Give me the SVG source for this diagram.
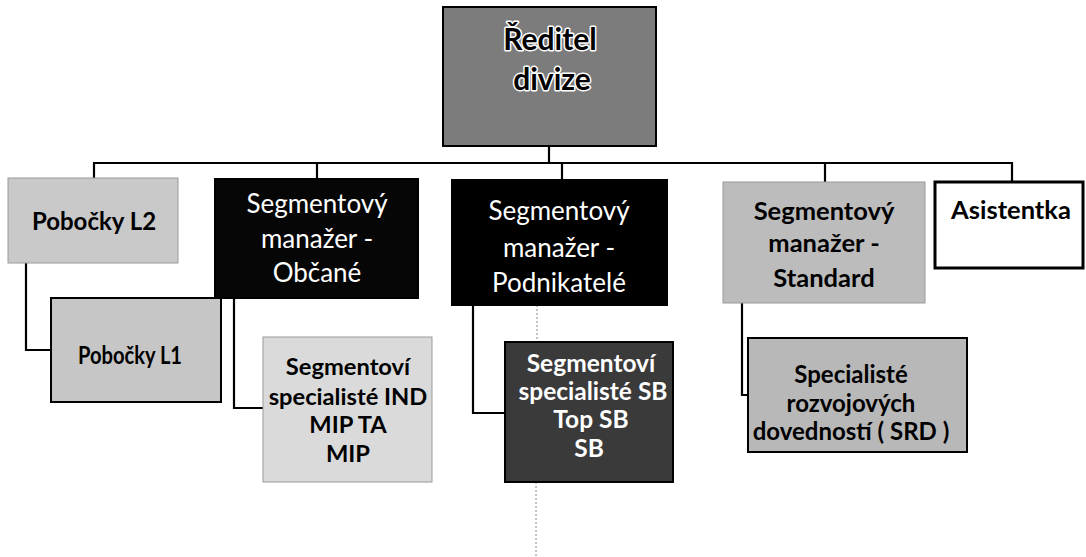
<svg xmlns="http://www.w3.org/2000/svg" width="1086" height="557" viewBox="0 0 1086 557">
  <style>
    .box { stroke: #000; stroke-width: 2; }
    .soft { stroke: #9a9a9a; stroke-width: 1; }
    .wire { fill: none; stroke: #000; stroke-width: 2.2; }
    .faint { fill: none; stroke: #888; stroke-width: 1; stroke-dasharray: 2 2; }
    text { font-family: Lato, "Open Sans", "Liberation Sans", sans-serif; text-anchor: middle; }
    .b { font-weight: 700; fill: #000; font-size: 24px; }
    .w { font-weight: 400; fill: #fff; font-size: 26px; }
    .wb { font-weight: 700; fill: #fff; font-size: 24.5px; }
    .title { font-size: 30px; }
    .mid { font-size: 25.5px; }
    .sm { font-size: 23.7px; }
    .halo { stroke: #fff; stroke-width: 3; paint-order: stroke; stroke-linejoin: round; }
  </style>

  <rect width="1086" height="557" fill="#fff"/>

  <!-- connectors -->
  <g id="connectors">
    <path class="wire" d="M549 146 V163"/>
    <path class="wire" d="M94 178 V163 H1012 V181"/>
    <path class="wire" d="M317 163 V179"/>
    <path class="wire" d="M562 163 V180"/>
    <path class="wire" d="M825 163 V182"/>
    <path class="wire" d="M26 263 V350 H51"/>
    <path class="wire" d="M234 298 V408 H263"/>
    <path class="wire" d="M473 305 V413 H505"/>
    <path class="wire" d="M742 303 V395 H748"/>
    <path class="faint" d="M537 305 V342 M536 482 V557"/>
  </g>

  <!-- top -->
  <g id="reditel">
    <rect class="box" x="443" y="7" width="213" height="139" fill="#7c7c7c"/>
    <text class="b title halo" x="550" y="50">Ředitel</text>
    <text class="b title halo" x="552" y="90">divize</text>
  </g>

  <!-- second row -->
  <g id="pobocky-l2">
    <rect class="soft" x="8" y="178" width="170" height="85" fill="#c9c9c9"/>
    <text class="b" x="94" y="230">Pobočky L2</text>
  </g>

  <g id="seg-obcane">
    <rect class="box" x="215" y="179" width="203" height="119" fill="#060606"/>
    <text class="w" x="317" y="213">Segmentový</text>
    <text class="w" x="317" y="248">manažer -</text>
    <text class="w" x="317" y="282">Občané</text>
  </g>

  <g id="seg-podnikatele">
    <rect class="box" x="452" y="180" width="215" height="125" fill="#000"/>
    <text class="w" x="559" y="220">Segmentový</text>
    <text class="w" x="559" y="257">manažer -</text>
    <text class="w" x="559" y="292">Podnikatelé</text>
  </g>

  <g id="seg-standard">
    <rect class="soft" x="723" y="182" width="202" height="121" fill="#bcbcbc"/>
    <text class="b mid" x="824" y="220">Segmentový</text>
    <text class="b mid" x="824" y="252">manažer -</text>
    <text class="b mid" x="824" y="287">Standard</text>
  </g>

  <g id="asistentka">
    <rect x="935" y="182" width="148" height="86" fill="#fff" stroke="#000" stroke-width="3"/>
    <text class="b mid" x="1011" y="219">Asistentka</text>
  </g>

  <!-- third row -->
  <g id="pobocky-l1">
    <rect class="box" x="51" y="298" width="170" height="104" fill="#c6c6c6"/>
    <text class="b" x="130" y="364" font-size="23" textLength="104" lengthAdjust="spacingAndGlyphs">Pobočky L1</text>
  </g>

  <g id="spec-ind">
    <rect class="soft" x="263" y="337" width="169" height="145" fill="#dadada"/>
    <text class="b sm" x="348" y="375">Segmentoví</text>
    <text class="b sm" x="348" y="405">specialisté IND</text>
    <text class="b sm" x="348" y="433">MIP TA</text>
    <text class="b sm" x="348" y="462">MIP</text>
  </g>

  <g id="spec-sb">
    <rect class="box" x="505" y="342" width="168" height="140" fill="#3a3a3a"/>
    <text class="wb" x="591" y="372">Segmentoví</text>
    <text class="wb" x="593" y="400">specialisté SB</text>
    <text class="wb" x="591" y="428">Top SB</text>
    <text class="wb" x="589" y="457">SB</text>
  </g>

  <g id="spec-srd">
    <rect class="box" x="748" y="338" width="219" height="114" fill="#b8b8b8"/>
    <text class="b" x="851" y="383">Specialisté</text>
    <text class="b" x="851" y="412">rozvojových</text>
    <text class="b" x="851" y="440">dovedností ( SRD )</text>
  </g>
</svg>
